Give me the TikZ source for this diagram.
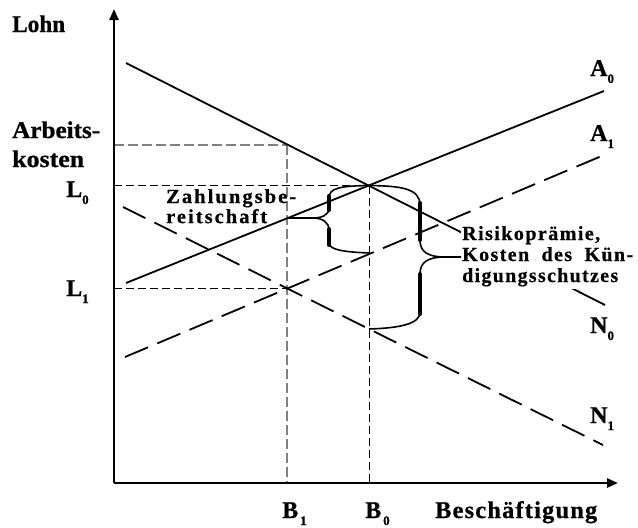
\documentclass[tikz,border=0pt]{standalone}
\usepackage{fontspec}
\usepackage{graphicx}
\setmainfont{Liberation Serif}
\newfontfamily\lblfont[FakeBold=0.8]{Liberation Serif Bold}
\newfontfamily\notefont[LetterSpace=10,FakeBold=0.6]{Liberation Serif Bold}
\newfontfamily\riskfont[LetterSpace=7,FakeBold=0.6]{Liberation Serif Bold}
\newfontfamily\beschfont[LetterSpace=5,FakeBold=0.8]{Liberation Serif Bold}
\usetikzlibrary{arrows.meta}
\newcommand\lsub[1]{\raisebox{-7pt}{\fontsize{13}{13}\selectfont #1}}
\newcommand\fitw[2]{\resizebox{#1}{\height}{#2}}
\begin{document}
\begin{tikzpicture}[x=1pt,y=-1pt,
  axis/.style={line width=2.4pt,-{Triangle[length=11pt,width=9pt]}},
  curve/.style={line width=1.8pt},
  curvedash/.style={line width=1.8pt,dash pattern=on 25pt off 10pt},
  guidegray/.style={line width=1.1pt,gray,dash pattern=on 10pt off 4pt},
  guide/.style={line width=0.8pt,dash pattern=on 8pt off 4pt},
  bracethin/.style={line width=1.6pt},
  bracethick/.style={line width=4pt,line cap=round},
  lbl/.style={font=\lblfont\fontsize{24}{28}\selectfont,inner sep=0pt,anchor=base west},
  note/.style={inner sep=1pt,anchor=base west}]
\useasboundingbox (0,0) rectangle (638,528);
% coordinates
\coordinate (O) at (114,483);
\coordinate (Ytop) at (114,9);
\coordinate (Xend) at (618,483);
\coordinate (N0a) at (126,63);  \coordinate (N0b) at (605,305);
\coordinate (A0a) at (126,283); \coordinate (A0b) at (604,91);
\coordinate (A1a) at (125,357); \coordinate (A1b) at (604,155);
\coordinate (N1a) at (123,207); \coordinate (N1b) at (603,445);
\coordinate (AKy) at (114,145); \coordinate (AKx) at (287,145);
\coordinate (L0y) at (114,185.5); \coordinate (E) at (369,185.5);
\coordinate (L1y) at (114,288); \coordinate (P) at (287,288);
\coordinate (B1x) at (287,483); \coordinate (B0x) at (369,483);
\coordinate (F) at (369,253); \coordinate (G) at (369,329);
\coordinate (T) at (287,218);
% guides
\draw[guidegray] (AKy) -- (AKx);
\draw[guidegray] (AKx) -- (B1x);
\draw[guide] (L0y) -- (E);
\draw[guide] (E) -- (B0x);
\draw[guide] (L1y) -- (P);
% curves
\draw[curve] (N0a) -- (N0b);
\draw[curve] (A0a) -- (A0b);
\draw[curvedash] (A1a) -- (A1b);
\draw[curvedash] (N1a) -- (N1b);
% axes
\draw[axis] (O) -- (Ytop);
\draw[axis] (O) -- (Xend);
% notes (tabular [t]: base anchor = first line)
\node[note] (zb) at (165,203) {\notefont\fontsize{20}{20}\selectfont
  \begin{tabular}[t]{@{}l@{}}\fitw{130pt}{Zahlungsbe-}\\\fitw{101pt}{reitschaft}\end{tabular}};
\node[note,fill=white] (rk) at (461,240) {\riskfont\fontsize{20}{21}\selectfont
  \begin{tabular}[t]{@{}l@{}}\fitw{138pt}{Risikoprämie,}\\\makebox[171pt][s]{Kosten des Kün-}\\\fitw{156pt}{digungsschutzes}\end{tabular}};
% small brace
\draw[bracethin] (E) .. controls (340,186) and (329,188) .. (329,198) -- (329,208)
  .. controls (329,215) and (322,218) .. (313,218) -- (T);
\draw[bracethin] (313,218) .. controls (322,218) and (329,222) .. (329,230) -- (329,243)
  .. controls (329,250) and (345,252) .. (F);
\draw[bracethick] (329,196) -- (329,210);
\draw[bracethick] (329,229) -- (329,245);
% big brace
\draw[bracethin] (E) .. controls (400,186) and (420,188) .. (420,205) -- (420,240)
  .. controls (420,252) and (428,257) .. (445,257) -- (rk.west |- 0,257);
\draw[bracethin] (445,257) .. controls (428,257) and (420,262) .. (420,274) -- (420,312)
  .. controls (420,324) and (400,328) .. (G);
\draw[bracethick] (420,203) -- (420,240);
\draw[bracethick] (420,274) -- (420,314);
% labels
\node[lbl] (lohn) at (12,32) {\fitw{53pt}{Lohn}};
\node[lbl] (ak1) at (12,138) {\fitw{88pt}{Arbeits-}};
\node[lbl] (ak2) at (12,167) {\fitw{72pt}{kosten}};
\node[lbl] (l0) at (66,197) {L\lsub{0}};
\node[lbl] (l1) at (66,296) {L\lsub{1}};
\node[lbl] (a0) at (590,76) {A\lsub{0}};
\node[lbl] (a1) at (590,141) {A\lsub{1}};
\node[lbl] (n0) at (590,333) {N\lsub{0}};
\node[lbl] (n1) at (590,423) {N\lsub{1}};
\node[lbl] (b1) at (282,518) {B\kern2pt\lsub{1}};
\node[lbl] (b0) at (365,518) {B\kern2pt\lsub{0}};
\node[lbl,font=\beschfont\fontsize{24}{28}\selectfont] (besch) at (435,518) {\fitw{162pt}{Beschäftigung}};
\end{tikzpicture}
\end{document}
